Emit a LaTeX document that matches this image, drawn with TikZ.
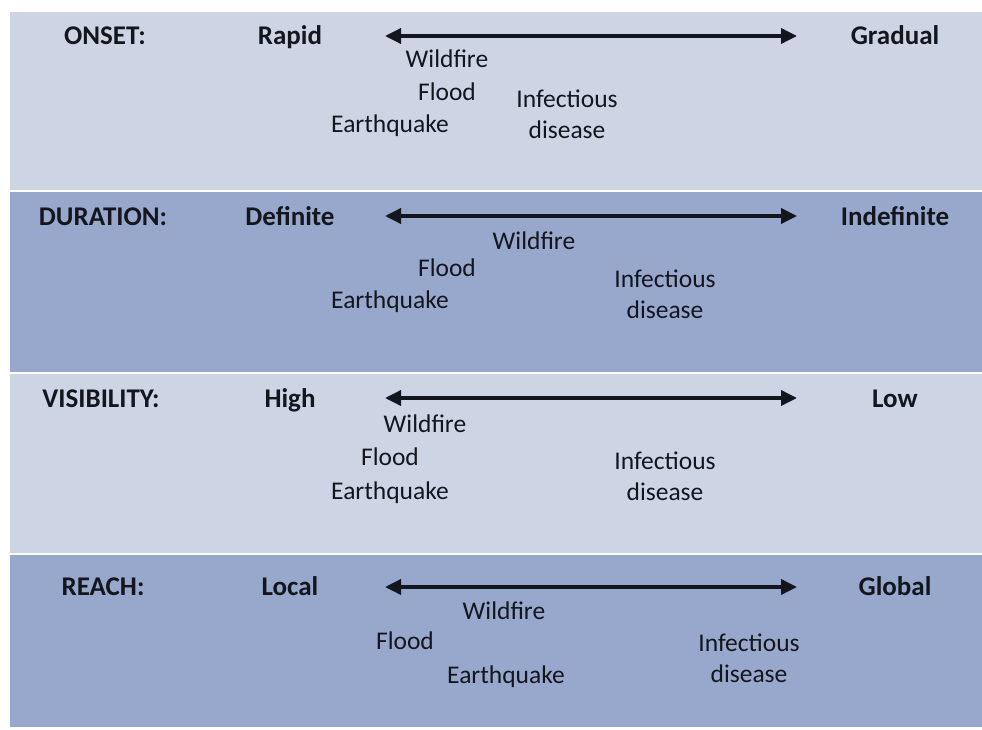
\documentclass[tikz,border=0pt]{standalone}
\usepackage{fontspec}
\setmainfont{Carlito}
\usetikzlibrary{arrows.meta}
\definecolor{bandlight}{RGB}{205,213,229}
\definecolor{banddark}{RGB}{151,168,204}
\definecolor{ink}{RGB}{20,22,30}
\begin{document}
\begin{tikzpicture}[x=1pt,y=-1pt,
  head/.style={font=\fontsize{27}{32}\selectfont\bfseries, text=ink, inner sep=0pt, text height=0.7em, text depth=0.2em},
  item/.style={font=\fontsize{25.5}{31}\selectfont, text=ink, inner sep=0pt, text height=0.7em, text depth=0.2em},
  pair/.style={font=\fontsize{25.5}{31}\selectfont, text=ink, inner sep=0pt, align=center},
  scale arrow/.style={{Triangle[length=16pt,width=15pt]}-{Triangle[length=16pt,width=15pt]}, line width=3.5pt, draw=ink}
]
\useasboundingbox (0,0) rectangle (982,730);
\fill[white] (0,0) rectangle (982,730);

% background bands
\fill[bandlight] (10,12) rectangle (982,190);
\fill[banddark]  (10,192) rectangle (982,372);
\fill[bandlight] (10,374) rectangle (982,553);
\fill[banddark]  (10,555) rectangle (982,727);

% ONSET
\node[head] (onset) at (105,42) {ONSET:};
\node[head] (rapid) at (290,42) {Rapid};
\node[head] (gradual) at (895,42) {Gradual};
\coordinate (onL) at (385,36);
\coordinate (onR) at (797,36);
\draw[scale arrow] (onL) -- (onR);
\node[item] (onWild) at (447,65) {Wildfire};
\node[item] (onFlood) at (447,98) {Flood};
\node[item] (onQuake) at (390,130) {Earthquake};
\node[pair] (onInf) at (567,114) {Infectious\\disease};

% DURATION
\node[head] (duration) at (103,223) {DURATION:};
\node[head] (definite) at (290,223) {Definite};
\node[head] (indefinite) at (895,223) {Indefinite};
\coordinate (duL) at (385,216);
\coordinate (duR) at (797,216);
\draw[scale arrow] (duL) -- (duR);
\node[item] (duWild) at (534,247) {Wildfire};
\node[item] (duFlood) at (447,274) {Flood};
\node[item] (duQuake) at (390,306) {Earthquake};
\node[pair] (duInf) at (665,294) {Infectious\\disease};

% VISIBILITY
\node[head] (visibility) at (101,405) {VISIBILITY:};
\node[head] (high) at (290,405) {High};
\node[head] (low) at (895,405) {Low};
\coordinate (viL) at (385,398);
\coordinate (viR) at (797,398);
\draw[scale arrow] (viL) -- (viR);
\node[item] (viWild) at (425,430) {Wildfire};
\node[item] (viFlood) at (390,463) {Flood};
\node[item] (viQuake) at (390,497) {Earthquake};
\node[pair] (viInf) at (665,476) {Infectious\\disease};

% REACH
\node[head] (reach) at (103,593) {REACH:};
\node[head] (local) at (290,593) {Local};
\node[head] (global) at (895,593) {Global};
\coordinate (reL) at (385,587);
\coordinate (reR) at (797,587);
\draw[scale arrow] (reL) -- (reR);
\node[item] (reWild) at (504,617) {Wildfire};
\node[item] (reFlood) at (405,647) {Flood};
\node[item] (reQuake) at (506,681) {Earthquake};
\node[pair] (reInf) at (749,658) {Infectious\\disease};
\end{tikzpicture}
\end{document}
